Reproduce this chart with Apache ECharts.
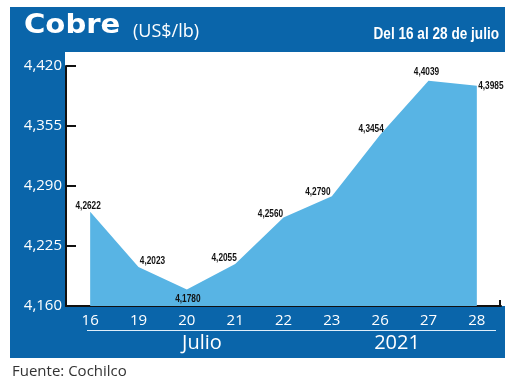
<!DOCTYPE html>
<html>
<head>
<meta charset="utf-8">
<script src="https://cdn.jsdelivr.net/npm/echarts@6/dist/echarts.min.js"></script>
<style>
html,body{margin:0;padding:0;background:#fff;}
#c{width:520px;height:384px;}
</style>
</head>
<body>
<div id="c"></div>
<script>
const categories = ['16','19','20','21','22','23','26','27','28'];
const values = [4.2622, 4.2023, 4.1780, 4.2055, 4.2560, 4.2790, 4.3454, 4.4039, 4.3985];
const yMin = 4.160, yMax = 4.420, yStep = 0.065;
const groupLabels = ['Julio', '2021'];
const titleText = 'Cobre';
const unitText = '(US$/lb)';
const periodText = 'Del 16 al 28 de julio';
const sourceText = 'Fuente: Cochilco';

// label offsets (style only): [dx, dy] of label centre relative to point
const labelOffsets = [[-2,-6],[14,-6],[1,9],[-11,-6],[-13,-4],[-14,-4],[-9,-6],[-2,-9],[14,0]];

const BLUE = '#0a65aa';
const AREA = '#58b4e4';
const fmt = (v, d) => v.toFixed(d).replace('.', ',');

const chart = echarts.init(document.getElementById('c'), null, {renderer:'canvas'});
chart.setOption({
  animation: false,
  grid: {left: 66, right: 19, top: 66, bottom: 78},
  graphic: [
    {type:'rect', z:-10, shape:{x:10, y:7, width:495, height:351}, style:{fill:BLUE}},
    {type:'rect', z:-9, shape:{x:65, y:52, width:440, height:254}, style:{fill:'#fff'}},
    {type:'text', z:5, x:24, y:26, scaleX:1.12, style:{text:titleText, fill:'#fff', font:'bold 26px "DejaVu Sans"', align:'left', verticalAlign:'middle'}},
    {type:'text', z:5, x:133, y:32, style:{text:unitText, fill:'#fff', font:'18px "Open Sans"', align:'left', verticalAlign:'middle'}},
    {type:'text', z:5, x:499, y:34, scaleX:0.8, style:{text:periodText, fill:'#fff', font:'bold 17px "Liberation Sans"', align:'right', verticalAlign:'middle'}},
    {type:'line', z:5, shape:{x1:87, y1:330.5, x2:496, y2:330.5}, style:{stroke:'#dfeefa', lineWidth:1}},
    {type:'text', z:5, style:{text:groupLabels[0], x:202, y:343, align:'center', verticalAlign:'middle', fill:'#fff', font:'20px "Open Sans"'}},
    {type:'text', z:5, style:{text:groupLabels[1], x:397, y:343, align:'center', verticalAlign:'middle', fill:'#fff', font:'20px "Open Sans"'}},
    {type:'line', z:5, shape:{x1:500, y1:300, x2:500, y2:306}, style:{stroke:'#111', lineWidth:2}},
    {type:'text', z:5, x:12, y:372, style:{text:sourceText, fill:'#333', font:'15px "Open Sans"', align:'left', verticalAlign:'middle'}}
  ],
  xAxis: {
    type:'category', data: categories, boundaryGap: true,
    axisLine:{show:true, lineStyle:{color:'#111', width:2}},
    axisTick:{show:false},
    axisLabel:{color:'#fff', fontFamily:'Open Sans', fontSize:15, margin:7},
    splitLine:{show:false}
  },
  yAxis: {
    type:'value', min:yMin, max:yMax, interval:yStep,
    axisLine:{show:true, lineStyle:{color:'#111', width:2}},
    axisTick:{show:true, inside:true, length:10, lineStyle:{color:'#111', width:2}},
    axisLabel:{color:'#fff', fontFamily:'Open Sans', fontSize:15, margin:4, formatter: v => fmt(v, 3)},
    splitLine:{show:false}
  },
  series: [{
    type:'line',
    data: values,
    symbol:'none',
    lineStyle:{width:0, color:AREA},
    areaStyle:{color:AREA, opacity:1},
    z: 2
  }, {
    type:'custom',
    data: values.map((v, i) => [i, v]),
    z: 3,
    renderItem: (params, api) => {
      const i = api.value(0);
      const pt = api.coord([i, api.value(1)]);
      const off = labelOffsets[i];
      return {
        type:'text', x: pt[0] + off[0], y: pt[1] + off[1], scaleX: 0.72,
        style:{text: fmt(api.value(1), 4), align:'center', verticalAlign:'middle',
               fill:'#111', font:'bold 11.5px "Liberation Sans"'}
      };
    }
  }]
});
</script>
</body>
</html>
